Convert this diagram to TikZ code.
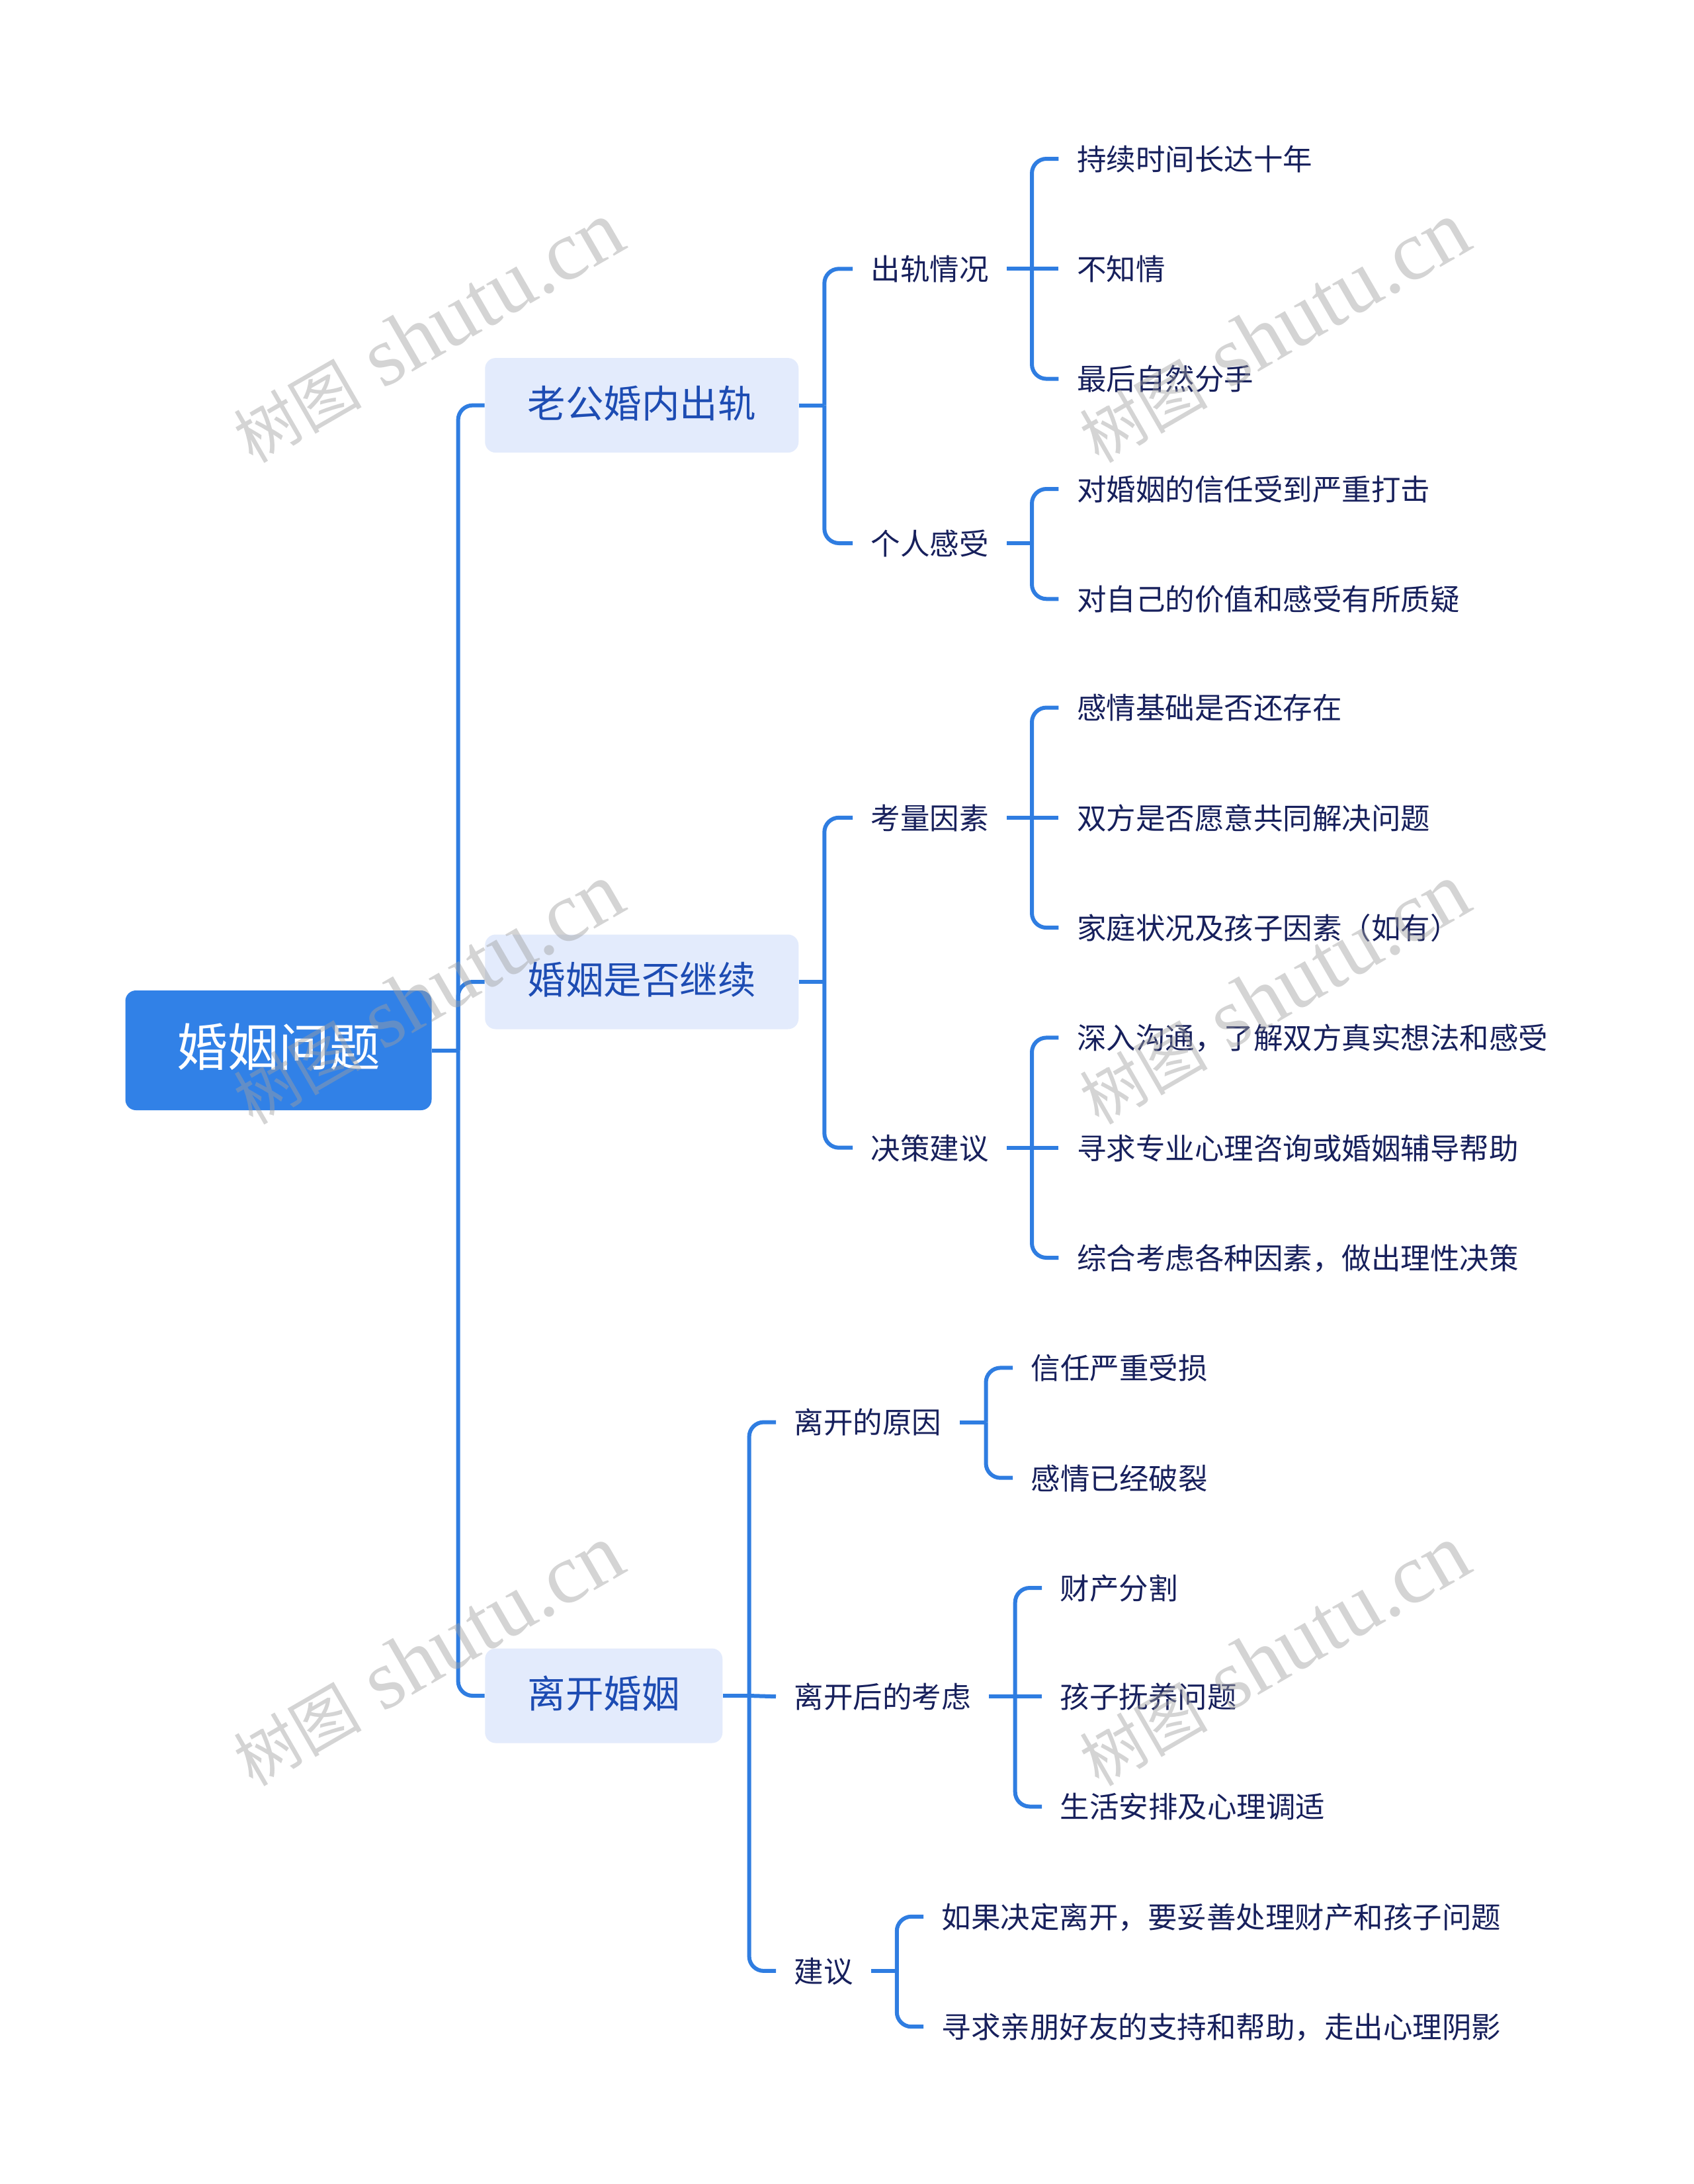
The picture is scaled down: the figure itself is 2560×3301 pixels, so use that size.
\documentclass[tikz,border=0pt]{standalone}
\usepackage{fontspec}
\setmainfont{Noto Sans CJK SC}
\newfontfamily\wmlatin{Liberation Serif}
\newfontfamily\wmcjk{Noto Sans CJK SC}
\definecolor{lineblue}{HTML}{2F7DE1}
\definecolor{rootblue}{HTML}{3181E7}
\definecolor{lvfill}{HTML}{E3EBFC}
\definecolor{lvtext}{HTML}{1D4CB3}
\definecolor{leaftext}{HTML}{17205C}
\definecolor{wmgray}{HTML}{A0A0A0}
\tikzset{
  rootnode/.style={fill=rootblue, rounded corners=4.8pt, text=white,
    font=\fontsize{23.1}{27}\selectfont, minimum width=138.9pt, minimum height=54.3pt,
    inner sep=0pt, text height=1.45em, text depth=0.03em},
  lonenode/.style={fill=lvfill, rounded corners=4.8pt, text=lvtext,
    font=\fontsize{17.25}{20}\selectfont, minimum height=42.9pt,
    inner xsep=19.35pt, inner ysep=0pt, anchor=west, text height=1.16em, text depth=0.04em},
  txt/.style={text=leaftext, font=\fontsize{13.35}{16}\selectfont,
    inner xsep=8.1pt, inner ysep=1pt, anchor=west, text height=1.1em, text depth=0.06em},
  conn/.style={draw=lineblue, line width=1.8pt},
  rc/.style={rounded corners=6.6pt},
  wm/.style={text=wmgray, text opacity=0.45, font=\wmlatin\fontsize{38.5}{44}\selectfont, inner sep=0pt, rotate=30},
}
\newcommand{\wmtext}{{\wmcjk\fontsize{29}{34}\selectfont 树图} shutu.cn}
\begin{document}
\begin{tikzpicture}[x=0.3pt, y=-0.3pt]
\useasboundingbox (0,0) rectangle (2560,3301);
\fill[white] (0,0) rectangle (2560,3301);

% nodes
\node[rootnode] (root) at (421,1587.5) {婚姻问题};
\node[lonenode] (a) at (732.6,612.6) {老公婚内出轨};
\node[lonenode] (b) at (732.6,1484) {婚姻是否继续};
\node[lonenode] (c) at (732.6,2563) {离开婚姻};

\node[txt] (a1) at (1289,406.3) {出轨情况};
\node[txt] (a2) at (1289,821) {个人感受};
\node[txt] (b1) at (1289,1235.8) {考量因素};
\node[txt] (b2) at (1289,1734.7) {决策建议};
\node[txt] (c1) at (1173,2149.5) {离开的原因};
\node[txt] (c2) at (1173,2564.2) {离开后的考虑};
\node[txt] (c3) at (1173,2978.9) {建议};

\node[txt] (a11) at (1600.4,240) {持续时间长达十年};
\node[txt] (a12) at (1600.4,406.3) {不知情};
\node[txt] (a13) at (1600.4,572.6) {最后自然分手};
\node[txt] (a21) at (1600.4,739) {对婚姻的信任受到严重打击};
\node[txt] (a22) at (1600.4,905.3) {对自己的价值和感受有所质疑};
\node[txt] (b11) at (1600.4,1069.5) {感情基础是否还存在};
\node[txt] (b12) at (1600.4,1235.8) {双方是否愿意共同解决问题};
\node[txt] (b13) at (1600.4,1402.1) {家庭状况及孩子因素（如有）};
\node[txt] (b21) at (1600.4,1568.4) {深入沟通，了解双方真实想法和感受};
\node[txt] (b22) at (1600.4,1734.7) {寻求专业心理咨询或婚姻辅导帮助};
\node[txt] (b23) at (1600.4,1901) {综合考虑各种因素，做出理性决策};
\node[txt] (c11) at (1531,2067.4) {信任严重受损};
\node[txt] (c12) at (1531,2233.7) {感情已经破裂};
\node[txt] (c21) at (1575,2400) {财产分割};
\node[txt] (c22) at (1575,2564.2) {孩子抚养问题};
\node[txt] (c23) at (1575,2730.5) {生活安排及心理调适};
\node[txt] (c31) at (1396,2896.8) {如果决定离开，要妥善处理财产和孩子问题};
\node[txt] (c32) at (1396,3063.2) {寻求亲朋好友的支持和帮助，走出心理阴影};

% trunk points
\coordinate (tr) at (692.6,1587.5);
\coordinate (ta) at (1246.3,612.6);
\coordinate (tb) at (1246.3,1484);
\coordinate (tc) at (1132.6,2563);
\coordinate (ta1) at (1560,406.3);
\coordinate (ta2) at (1560,821);
\coordinate (tb1) at (1560,1235.8);
\coordinate (tb2) at (1560,1734.7);
\coordinate (tc1) at (1490.5,2149.5);
\coordinate (tc2) at (1534.7,2564.2);
\coordinate (tc3) at (1355.8,2978.9);

% connectors
\draw[conn] (root.east) -- (tr);
\draw[conn,rc] (tr) |- (a.west);
\draw[conn,rc] (tr) |- (b.west);
\draw[conn,rc] (tr) |- (c.west);

\draw[conn] (a.east) -- (ta);
\draw[conn,rc] (ta) |- (a1.west);
\draw[conn,rc] (ta) |- (a2.west);
\draw[conn] (b.east) -- (tb);
\draw[conn,rc] (tb) |- (b1.west);
\draw[conn,rc] (tb) |- (b2.west);
\draw[conn] (c.east) -- (tc);
\draw[conn,rc] (tc) |- (c1.west);
\draw[conn] (tc) -- (c2.west);
\draw[conn,rc] (tc) |- (c3.west);

\draw[conn] (a1.east) -- (ta1);
\draw[conn,rc] (ta1) |- (a11.west);
\draw[conn] (ta1) -- (a12.west);
\draw[conn,rc] (ta1) |- (a13.west);
\draw[conn] (a2.east) -- (ta2);
\draw[conn,rc] (ta2) |- (a21.west);
\draw[conn,rc] (ta2) |- (a22.west);

\draw[conn] (b1.east) -- (tb1);
\draw[conn,rc] (tb1) |- (b11.west);
\draw[conn] (tb1) -- (b12.west);
\draw[conn,rc] (tb1) |- (b13.west);
\draw[conn] (b2.east) -- (tb2);
\draw[conn,rc] (tb2) |- (b21.west);
\draw[conn] (tb2) -- (b22.west);
\draw[conn,rc] (tb2) |- (b23.west);

\draw[conn] (c1.east) -- (tc1);
\draw[conn,rc] (tc1) |- (c11.west);
\draw[conn,rc] (tc1) |- (c12.west);
\draw[conn] (c2.east) -- (tc2);
\draw[conn,rc] (tc2) |- (c21.west);
\draw[conn] (tc2) -- (c22.west);
\draw[conn,rc] (tc2) |- (c23.west);
\draw[conn] (c3.east) -- (tc3);
\draw[conn,rc] (tc3) |- (c31.west);
\draw[conn,rc] (tc3) |- (c32.west);

% watermarks
\node[wm] (w1) at (647,502) {\wmtext};
\node[wm] (w2) at (1926,502) {\wmtext};
\node[wm] (w3) at (647,1502) {\wmtext};
\node[wm] (w4) at (1926,1502) {\wmtext};
\node[wm] (w5) at (647,2502) {\wmtext};
\node[wm] (w6) at (1926,2502) {\wmtext};
\end{tikzpicture}
\end{document}
